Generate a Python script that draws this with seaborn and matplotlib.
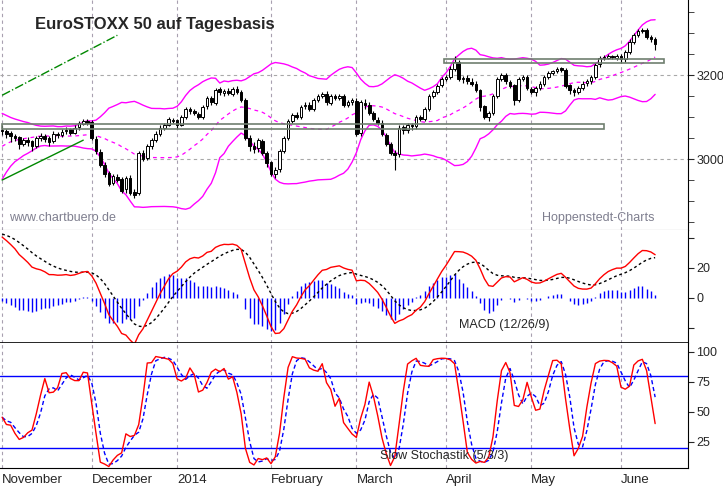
import numpy as np
import pandas as pd
import matplotlib
matplotlib.use("Agg")
import matplotlib.pyplot as plt
import seaborn as sns

# daily EuroSTOXX 50 prices, Nov 2013 - Jun 2014
closes = [3068,3060,3055,3050,3035,3045,3040,3030,3050,3055,3048,3040,3060,3058,3065,3070,3062,3075,3085,3090,3087,
          3050,3020,2985,2965,2940,2960,2950,2925,2955,2920,2915,3015,3000,3030,3045,3060,3075,3080,3095,3090,
          3080,3100,3120,3115,3110,3100,3125,3145,3135,3165,3160,3162,3158,3168,3160,3140,3050,3030,3025,3045,3015,2990,
          2965,2975,3020,3050,3090,3105,3100,3125,3130,3120,3140,3150,3155,3135,3150,3145,3150,3130,3135,3140,
          3060,3135,3130,3110,3095,3085,3060,3035,3015,3010,3075,3070,3080,3078,3100,3095,3120,3150,3160,3175,3190,
          3195,3215,3232,3190,3192,3185,3180,3165,3125,3100,3110,3150,3190,3200,3185,3175,3140,3190,3195,3170,
          3160,3170,3180,3195,3205,3210,3215,3212,3175,3165,3160,3170,3180,3185,3195,3225,3240,3242,3245,3243,3245,
          3238,3255,3280,3295,3305,3308,3290,3285,3275]
opens = [3070,3066,3062,3056,3052,3036,3046,3042,3032,3050,3056,3050,3042,3060,3058,3066,3071,3063,3076,3084,3091,
         3088,3048,3018,2986,2966,2942,2958,2952,2928,2954,2922,2918,3014,3002,3030,3046,3060,3074,3082,3094,
         3092,3082,3100,3120,3114,3108,3100,3126,3146,3134,3166,3158,3163,3156,3168,3160,3140,3050,3030,3026,3044,3014,
         2992,2964,2976,3020,3050,3090,3106,3100,3126,3130,3120,3140,3150,3156,3134,3150,3146,3150,3130,3136,
         3138,3062,3134,3130,3110,3094,3086,3058,3036,3014,3012,3076,3070,3080,3078,3100,3096,3120,3150,3160,3176,
         3190,3196,3214,3232,3190,3192,3184,3180,3164,3126,3100,3110,3150,3190,3200,3184,3176,3140,3190,3196,
         3168,3160,3170,3180,3196,3205,3210,3216,3212,3176,3164,3160,3170,3181,3186,3196,3226,3240,3242,3246,3242,
         3246,3238,3256,3280,3296,3306,3308,3290,3286]
highs = [3080,3072,3066,3060,3056,3050,3052,3046,3056,3062,3060,3054,3066,3064,3072,3076,3074,3082,3090,3096,3095,
         3092,3055,3025,2992,2972,2965,2965,2958,2960,2962,2928,3020,3022,3035,3050,3066,3080,3085,3100,3098,
         3095,3104,3125,3124,3120,3112,3130,3150,3150,3170,3172,3168,3170,3172,3174,3165,3145,3058,3040,3050,3048,3020,
         2995,2982,3025,3055,3095,3110,3112,3130,3135,3135,3145,3155,3160,3162,3155,3156,3155,3155,3140,3145,
         3145,3140,3142,3135,3115,3100,3092,3062,3040,3022,3080,3082,3085,3085,3105,3105,3125,3155,3165,3180,3195,
         3200,3222,3245,3236,3198,3200,3192,3186,3168,3130,3115,3155,3195,3205,3205,3188,3180,3195,3200,3200,
         3172,3175,3185,3200,3210,3212,3220,3220,3216,3180,3170,3175,3185,3190,3200,3230,3245,3248,3250,3248,3250,
         3250,3260,3285,3300,3310,3312,3312,3295,3290]
lows = [3058,3050,3040,3042,3025,3030,3032,3020,3026,3044,3040,3030,3038,3050,3052,3060,3058,3060,3070,3080,3082,
        3045,3012,2980,2958,2935,2938,2945,2918,2920,2915,2908,2915,2995,2998,3025,3040,3055,3070,3078,3085,
        3072,3078,3095,3108,3104,3095,3095,3120,3130,3130,3152,3150,3152,3150,3155,3135,3045,3020,3015,3018,3010,2982,
        2960,2955,2970,3015,3045,3085,3095,3095,3120,3115,3115,3135,3145,3130,3130,3140,3140,3125,3125,3128,
        3055,3055,3120,3105,3090,3080,3055,3030,3010,2975,3005,3060,3062,3070,3072,3090,3090,3115,3145,3155,3172,
        3185,3190,3210,3185,3182,3180,3175,3160,3115,3095,3090,3105,3145,3185,3180,3170,3130,3135,3185,3165,
        3155,3150,3165,3175,3190,3200,3205,3208,3170,3155,3150,3155,3165,3175,3180,3190,3220,3235,3238,3238,3236,
        3230,3232,3250,3275,3290,3300,3285,3280,3260]
# Sep/Oct 2013 closes (off-screen, only feed the indicators)
pre_closes = [2800,2810,2830,2840,2845,2870,2890,2900,2920,2925,2935,2930,2920,2905,2900,2890,2880,2895,2900,2915,
              2890,2920,2930,2935,2940,2960,2980,2995,3000,3010,3005,3015,3025,3040,3050,3055,3070,3065,3060,3065,3070,3068,3066]

month_idx = [0, 21, 41, 63, 83, 104, 124, 145]
month_labels = ["November", "December", "2014", "February", "March", "April", "May", "June"]

# support / resistance boxes and trend lines (index, price)
box_low = [0, 141, 3071, 3083]
box_high = [103.5, 155, 3229, 3238]
trend_dashdot = [[0, 27], [3152, 3295]]
trend_solid = [[0, 19], [2950, 3045]]

df = pd.DataFrame({"o": opens, "h": highs, "l": lows, "c": closes})
n = len(df)
df["idx"] = np.arange(n)

full = pd.Series(pre_closes + closes, dtype=float)
npre = len(pre_closes)
ma = full.rolling(20).mean()
sd = full.rolling(20).std(ddof=0)
df["ma"] = ma.values[npre:]
df["up"] = (ma + 2 * sd).values[npre:]
df["lo"] = (ma - 2 * sd).values[npre:]
macd = full.ewm(span=12, adjust=False).mean() - full.ewm(span=26, adjust=False).mean()
sig = macd.ewm(span=9, adjust=False).mean()
df["macd"] = macd.values[npre:]
df["sig"] = sig.values[npre:]
df["hist"] = df["macd"] - df["sig"]
hh = df["h"].rolling(5, min_periods=1).max()
ll = df["l"].rolling(5, min_periods=1).min()
fastk = 100 * (df["c"] - ll) / (hh - ll)
df["k"] = fastk.rolling(3, min_periods=1).mean()
df["d"] = df["k"].rolling(3, min_periods=1).mean()

sns.set_style("white")
plt.rcParams["font.family"] = "Liberation Sans"
fig = plt.figure(figsize=(7.23, 4.86), dpi=100)
W = 688 / 723
ax1 = fig.add_axes([0, 1 - 230 / 486, W, 230 / 486])
ax2 = fig.add_axes([0, 1 - 343 / 486, W, 113 / 486])
ax3 = fig.add_axes([0, 1 - 468 / 486, W, 125 / 486])
xl = (-0.5, 160.7)
mag = "#ff00ff"

for ax in (ax1, ax2, ax3):
    ax.set_xlim(*xl)
    for m in month_idx:
        ax.axvline(m, color="#a8a0b0", ls=(0, (3, 3)), lw=0.8, zorder=0)
    ax.yaxis.tick_right()
    ax.spines["left"].set_visible(False)
    ax.spines["top"].set_visible(False)
    ax.spines["bottom"].set_color("#555555")
    ax.spines["right"].set_color("black")
    ax.tick_params(axis="y", direction="out", length=4, labelsize=9, pad=2)

# price panel
for y in (3000, 3200):
    ax1.axhline(y, color="#a8a8a8", ls=(0, (3, 3)), lw=0.8, zorder=0)
sns.lineplot(data=df, x="idx", y="up", ax=ax1, color=mag, lw=1)
sns.lineplot(data=df, x="idx", y="lo", ax=ax1, color=mag, lw=1)
sns.lineplot(data=df, x="idx", y="ma", ax=ax1, color=mag, lw=0.9, ls=(0, (3, 3)))
ax1.vlines(df["idx"], df["l"], df["h"], color="black", lw=0.8, zorder=3)
upc = df["c"] >= df["o"]
bw = 0.62
ax1.bar(df["idx"][upc], (df["c"] - df["o"])[upc], bottom=df["o"][upc], width=bw,
        color="white", edgecolor="black", lw=0.7, zorder=4)
ax1.bar(df["idx"][~upc], (df["o"] - df["c"])[~upc], bottom=df["c"][~upc], width=bw,
        color="black", edgecolor="black", lw=0.7, zorder=4)
for b in (box_low, box_high):
    ax1.add_patch(plt.Rectangle((b[0], b[2]), b[1] - b[0], b[3] - b[2], fill=False,
                                edgecolor="#6f7f6f", lw=1.2, zorder=5))
ax1.plot(trend_dashdot[0], trend_dashdot[1], color="#008800", ls="-.", lw=1)
ax1.plot(trend_solid[0], trend_solid[1], color="#008800", lw=1)
ax1.set_ylim(2831, 3379)
ax1.set_yticks([3000, 3200])
ax1.set_yticks(np.arange(2850, 3400, 50), minor=True)
ax1.tick_params(axis="y", which="minor", length=4, direction="out")
ax1.set_xticks([])
ax1.text(35 / 688, 1 - 25 / 230, "EuroSTOXX 50 auf Tagesbasis", fontsize=12, fontweight="bold",
         transform=ax1.transAxes, ha="left", va="center")
ax1.text(1.5, 2853, "www.chartbuero.de", color="#7f7f8f", fontsize=9)
ax1.text(126.5, 2853, "Hoppenstedt-Charts", color="#7f7f8f", fontsize=9)
ax1.spines["bottom"].set_color("#6f6f6f")
ax1.set_ylabel("")
ax1.set_xlabel("")

# MACD panel
ax2.vlines(df["idx"], 0, df["hist"], color="#0000ff", lw=1)
sns.lineplot(data=df, x="idx", y="sig", ax=ax2, color="black", lw=1, ls=(0, (2, 2)))
sns.lineplot(data=df, x="idx", y="macd", ax=ax2, color="red", lw=1)
ax2.set_ylim(-30, 45)
ax2.set_yticks([-20, 0, 20, 40])
ax2.set_yticklabels(["", "0", "20", ""])
ax2.set_xticks([])
ax2.text(107, -18, "MACD (12/26/9)", fontsize=9, va="center")
ax2.set_ylabel("")
ax2.set_xlabel("")
ax2.spines["bottom"].set_color("black")
ax2.spines["bottom"].set_linewidth(1.2)

# stochastic panel
ax3.axhline(80, color="#0000ff", lw=1)
ax3.axhline(20, color="#0000ff", lw=1)
sns.lineplot(data=df, x="idx", y="d", ax=ax3, color="#0000ff", lw=1, ls=(0, (3, 2)))
sns.lineplot(data=df, x="idx", y="k", ax=ax3, color="red", lw=1)
ax3.set_ylim(3, 107.5)
ax3.set_yticks([25, 50, 75, 100])
ax3.text(88.5, 13, "Slow Stochastik (5/3/3)", fontsize=9, va="center", zorder=6)
ax3.set_xticks(month_idx)
ax3.set_xticklabels(month_labels, ha="left", fontsize=9.5)
ax3.tick_params(axis="x", direction="out", length=14, pad=-10, color="black")
ax3.spines["bottom"].set_color("black")
ax3.set_ylabel("")
ax3.set_xlabel("")

fig.savefig("out.png", dpi=100)
